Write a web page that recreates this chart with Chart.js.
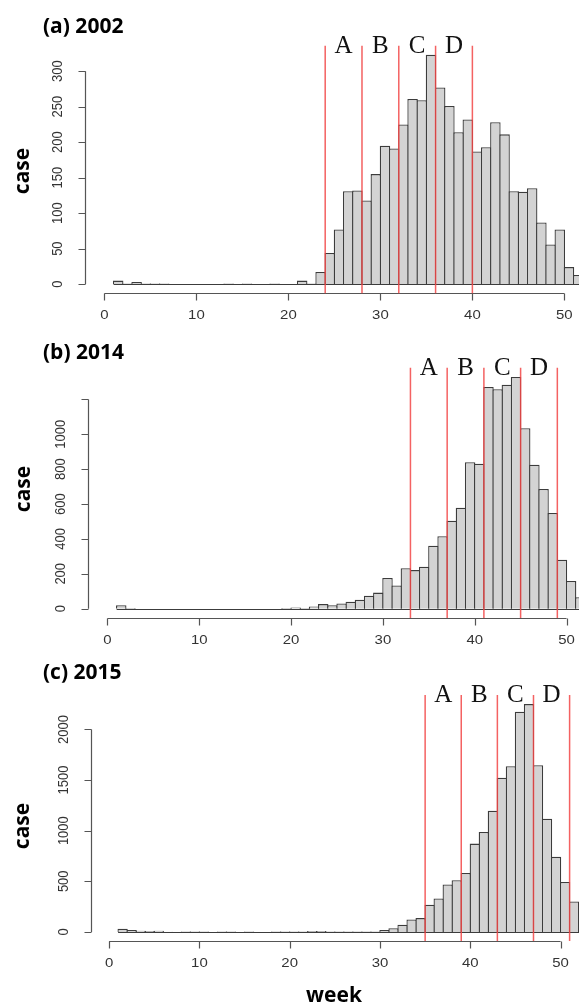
<!DOCTYPE html>
<html>
<head>
<meta charset="utf-8">
<script src="https://cdn.jsdelivr.net/npm/chart.js@4.4.1/dist/chart.umd.min.js"></script>
<style>
  html, body { margin: 0; padding: 0; background: #fff; }
  body { width: 579px; height: 1004px; position: relative; overflow: hidden; }
  canvas { position: absolute; left: 0; }
  .lbl { position: absolute; font-family: 'Open Sans', sans-serif; font-weight: 700; color: #000; white-space: nowrap; line-height: 1; }
  .title { font-size: 21px; transform: translateY(-50%); }
  .ylab { font-size: 21px; transform: translate(-50%, -50%) rotate(-90deg); }
  .xlab { font-size: 21px; transform: translate(-50%, -50%); }
</style>
</head>
<body>

<canvas id="c2002" width="579" height="330" style="top:0px"></canvas>
<canvas id="c2014" width="579" height="330" style="top:330px"></canvas>
<canvas id="c2015" width="579" height="344" style="top:660px"></canvas>

<div class="lbl title" style="left:43px; top:25px">(a) 2002</div>
<div class="lbl title" style="left:43px; top:351px">(b) 2014</div>
<div class="lbl title" style="left:43px; top:671px">(c) 2015</div>
<div class="lbl ylab" style="left:21px; top:171px">case</div>
<div class="lbl ylab" style="left:22px; top:489px">case</div>
<div class="lbl ylab" style="left:21px; top:826px">case</div>
<div class="lbl xlab" style="left:334px; top:994px">week</div>

<script>
// histogram bins: week w covers [w, w+1)
const weeks = [1, 2, 3, 4, 5, 6, 7, 8, 9, 10, 11, 12, 13, 14, 15, 16, 17, 18, 19, 20,
  21, 22, 23, 24, 25, 26, 27, 28, 29, 30, 31, 32, 33, 34, 35, 36, 37, 38, 39, 40,
  41, 42, 43, 44, 45, 46, 47, 48, 49, 50, 51];

const cases2002 = [5, 1, 3, 1, 1, 1, 0, 0, 0, 0, 0, 0, 1, 0, 1, 0, 0, 1, 0, 0,
  5, 1, 17, 44, 77, 131, 132, 118, 155, 195, 191, 225, 261, 259, 323, 277, 251, 214, 232, 187,
  193, 228, 211, 131, 130, 135, 87, 56, 77, 24, 13];

const cases2014 = [19, 4, 0, 0, 0, 0, 0, 0, 0, 0, 0, 0, 0, 0, 0, 0, 0, 0, 3, 6,
  4, 12, 26, 19, 30, 40, 51, 74, 92, 176, 133, 232, 221, 240, 361, 415, 504, 579, 840, 831,
  1272, 1259, 1285, 1329, 1035, 826, 686, 549, 281, 159, 65];

const cases2015 = [31, 18, 12, 8, 12, 2, 0, 3, 3, 3, 0, 3, 3, 0, 3, 0, 0, 3, 3, 3,
  3, 8, 10, 3, 3, 3, 3, 3, 4, 18, 36, 70, 123, 136, 268, 331, 468, 511, 581, 872,
  987, 1197, 1522, 1636, 2174, 2250, 1646, 1118, 741, 493, 300];

const xTicks = [0, 10, 20, 30, 40, 50];
const yTicks2002 = [0, 50, 100, 150, 200, 250, 300];
const yTickLabels2002 = ['0', '50', '100', '150', '200', '250', '300'];
const yTicks2014 = [0, 200, 400, 600, 800, 1000, 1200];
const yTickLabels2014 = ['0', '200', '400', '600', '800', '1000', ''];
const yTicks2015 = [0, 500, 1000, 1500, 2000];
const yTickLabels2015 = ['0', '500', '1000', '1500', '2000'];

const cuts2002 = [24, 28, 32, 36, 40];
const cuts2014 = [33, 37, 41, 45, 49];
const cuts2015 = [35, 39, 43, 47, 51];
const phases = ['A', 'B', 'C', 'D'];

const BAR_FILL = '#d3d3d3';
const BAR_EDGE = '#3c3c3c';
const AXIS = '#555';
const TICK_TEXT = '#333';
const CUT_RED = 'rgba(242, 70, 70, 0.85)';
const TEXT_STRETCH = 1.15; // the source figure is a little wider than tall

// R-style axes, cut lines and phase letters, all placed through the chart scales
const rAxesPlugin = {
  id: 'rAxes',
  afterDatasetsDraw(chart, args, opts) {
    const { ctx, chartArea } = chart;
    const xs = chart.scales.x;
    const ys = chart.scales.y;
    ctx.save();

    // zero-height bins show as a line along the base
    ctx.strokeStyle = BAR_EDGE;
    ctx.lineWidth = 1;
    ctx.beginPath();
    ctx.moveTo(xs.getPixelForValue(weeks[0]), Math.round(ys.getPixelForValue(0)) + 0.5);
    ctx.lineTo(chartArea.right, Math.round(ys.getPixelForValue(0)) + 0.5);
    ctx.stroke();

    // y axis
    const ax = Math.round(chartArea.left) + 0.5;
    ctx.strokeStyle = AXIS;
    ctx.lineWidth = 1.2;
    ctx.beginPath();
    ctx.moveTo(ax, ys.getPixelForValue(opts.yTicks[0]));
    ctx.lineTo(ax, ys.getPixelForValue(opts.yTicks[opts.yTicks.length - 1]));
    opts.yTicks.forEach(t => {
      const py = Math.round(ys.getPixelForValue(t)) + 0.5;
      ctx.moveTo(ax, py);
      ctx.lineTo(ax - 7, py);
    });
    ctx.stroke();
    ctx.fillStyle = TICK_TEXT;
    ctx.font = '13px "Liberation Sans", Arial, sans-serif';
    ctx.textAlign = 'center';
    ctx.textBaseline = 'middle';
    opts.yTicks.forEach((t, i) => {
      ctx.save();
      ctx.translate(ax - 28, ys.getPixelForValue(t));
      ctx.scale(TEXT_STRETCH, 1);
      ctx.rotate(-Math.PI / 2);
      ctx.fillText(opts.yTickLabels[i], 0, 0);
      ctx.restore();
    });

    // x axis
    const ay = Math.round(chartArea.bottom) + 0.5;
    ctx.beginPath();
    ctx.moveTo(xs.getPixelForValue(xTicks[0]), ay);
    ctx.lineTo(xs.getPixelForValue(xTicks[xTicks.length - 1]), ay);
    xTicks.forEach(t => {
      const px = Math.round(xs.getPixelForValue(t)) + 0.5;
      ctx.moveTo(px, ay);
      ctx.lineTo(px, ay + 7);
    });
    ctx.stroke();
    xTicks.forEach(t => {
      ctx.save();
      ctx.translate(xs.getPixelForValue(t), ay + 22);
      ctx.scale(TEXT_STRETCH, 1);
      ctx.fillText(String(t), 0, 0);
      ctx.restore();
    });

    // phase boundaries
    ctx.strokeStyle = CUT_RED;
    ctx.lineWidth = 1.5;
    ctx.beginPath();
    opts.cuts.forEach(c => {
      const px = xs.getPixelForValue(c);
      ctx.moveTo(px, chartArea.top);
      ctx.lineTo(px, chartArea.bottom);
    });
    ctx.stroke();

    ctx.fillStyle = '#111';
    ctx.font = '25px "Liberation Serif", "Times New Roman", serif';
    ctx.textBaseline = 'alphabetic';
    phases.forEach((p, i) => {
      const mid = (opts.cuts[i] + opts.cuts[i + 1]) / 2;
      ctx.fillText(p, xs.getPixelForValue(mid), chartArea.top + 7);
    });

    ctx.restore();
  },
};

function createHistogram(id, panel) {
  const top = Math.max(...panel.values);
  return new Chart(document.getElementById(id), {
    type: 'bar',
    data: {
      datasets: [{
        data: weeks.map((w, i) => ({ x: w + 0.5, y: panel.values[i] })),
        backgroundColor: BAR_FILL,
        borderColor: BAR_EDGE,
        borderWidth: 1.3,
        borderSkipped: 'start',
        barPercentage: 1.14, // neighbours share one edge line, like R's rect()
        categoryPercentage: 1,
      }],
    },
    options: {
      responsive: false,
      animation: false,
      events: [],
      layout: { padding: panel.padding },
      plugins: {
        legend: { display: false },
        tooltip: { enabled: false },
        rAxes: {
          yTicks: panel.yTicks,
          yTickLabels: panel.yTickLabels,
          cuts: panel.cuts,
        },
      },
      scales: {
        x: { type: 'linear', display: false, offset: false, min: panel.xMin, max: panel.xMax },
        // R pads the range 4% on both sides
        y: { display: false, min: -0.04 * top, max: 1.04 * top },
      },
    },
    plugins: [rAxesPlugin],
  });
}

createHistogram('c2002', {
  values: cases2002, yTicks: yTicks2002, yTickLabels: yTickLabels2002, cuts: cuts2002,
  xMin: -2.11, xMax: 51.59,
  padding: { left: 85, right: 0, top: 45.7, bottom: 36.7 },
});
createHistogram('c2014', {
  values: cases2014, yTicks: yTicks2014, yTickLabels: yTickLabels2014, cuts: cuts2014,
  xMin: -2.09, xMax: 51.36,
  padding: { left: 88.3, right: 0, top: 37.7, bottom: 42.1 },
});
createHistogram('c2015', {
  values: cases2015, yTicks: yTicks2015, yTickLabels: yTickLabels2015, cuts: cuts2015,
  xMin: -1.98, xMax: 52.04,
  padding: { left: 91.2, right: 0, top: 35, bottom: 63 },
});
</script>
</body>
</html>
